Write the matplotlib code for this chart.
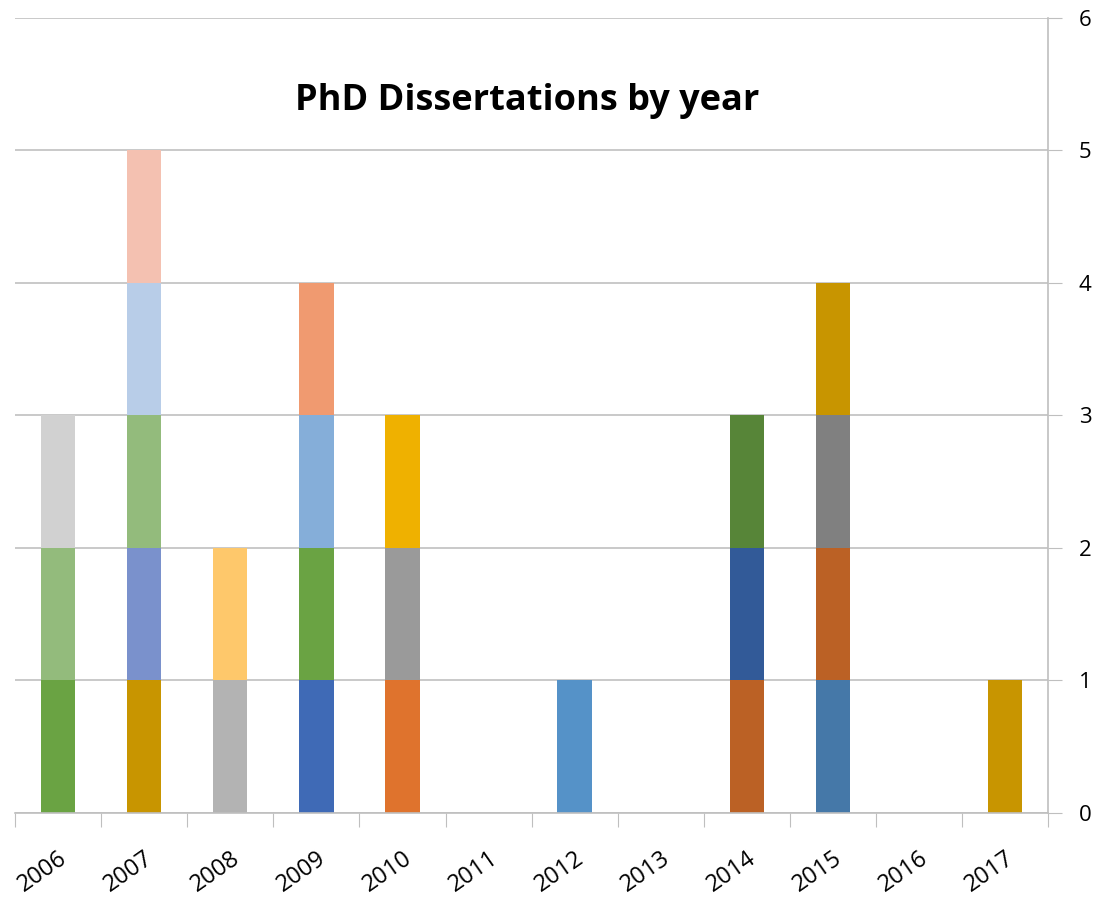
import matplotlib
matplotlib.use("Agg")
import matplotlib.pyplot as plt

years = ["2006", "2007", "2008", "2009", "2010", "2011",
         "2012", "2013", "2014", "2015", "2016", "2017"]

# one entry per dissertation, stacked bottom to top, colour of each block
seg_colors = [
    ["#6aa343", "#93bb7c", "#d1d1d1"],
    ["#c89500", "#7a91cc", "#93bb7c", "#b8cde8", "#f4c1b1"],
    ["#b3b3b3", "#fec86b"],
    ["#3f6ab6", "#6aa343", "#85aed9", "#f09a70"],
    ["#df732d", "#9a9a9a", "#efb100"],
    [],
    ["#5592c8"],
    [],
    ["#bb6125", "#325a98", "#578538"],
    ["#4578a8", "#bb6125", "#808080", "#c89500"],
    [],
    ["#c89500"],
]

fig = plt.figure(figsize=(10.94, 8.98), dpi=100)
ax = fig.add_axes([0.0137, 0.0947, 0.9445, 0.8853])

for i, cols in enumerate(seg_colors):
    for k, c in enumerate(cols):
        ax.bar(i, 1, bottom=k, width=0.4, color=c, zorder=2)

ax.set_xlim(-0.5, len(years) - 0.5)
ax.set_ylim(0, 6)

ax.yaxis.tick_right()
ax.set_yticks(range(7))
ax.tick_params(axis="y", length=10, color="#bfbfbf", labelsize=16, pad=12)
ax.grid(axis="y", color="#c0c0c0", linewidth=1.2, zorder=1)

ax.set_xticks([i + 0.5 for i in range(-1, len(years))], minor=False)
ax.set_xticklabels([])
ax.set_xticks(range(len(years)), minor=True)
ax.set_xticklabels(years, minor=True, rotation=35, ha="right",
                   rotation_mode="anchor", fontsize=17)
ax.tick_params(axis="x", which="major", length=10, color="#bfbfbf")
ax.tick_params(axis="x", which="minor", length=0, pad=24)

for s in ["top", "left"]:
    ax.spines[s].set_visible(False)
for s in ["bottom", "right"]:
    ax.spines[s].set_color("#bfbfbf")
    ax.spines[s].set_linewidth(1.2)

for lab in ax.get_xticklabels(minor=True) + ax.get_yticklabels():
    lab.set_family(["Open Sans", "DejaVu Sans"])

fig.text(0.482, 0.888, "PhD Dissertations by year", ha="center", va="center",
         fontsize=26, fontweight="bold", family=["Open Sans", "DejaVu Sans"])

fig.savefig("out.png", dpi=100)
